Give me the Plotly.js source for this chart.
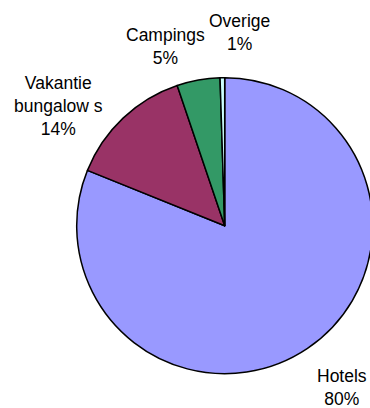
<!DOCTYPE html>
<html>
<head>
<meta charset="utf-8">
<script src="https://cdn.plot.ly/plotly-3.0.1.min.js"></script>
<style>
html, body { margin:0; padding:0; background:#fff; overflow:hidden; width:370px; height:408px; }
#chart { width:380px; height:408px; }
</style>
</head>
<body>
<div id="chart"></div>
<script>
// Data
const categories = ['Hotels', 'Vakantie bungalow s', 'Campings', 'Overige'];
const labelLines = ['Hotels', 'Vakantie<br>bungalow s', 'Campings', 'Overige'];
const values = [81.1, 13.7, 4.7, 0.5];
const percentLabels = ['80%', '14%', '5%', '1%'];
const colors = ['#9999FF', '#993366', '#339966', '#CCFFFF'];

// label placement (paper coords) for each category
const W = 380, H = 408;
const labelPos = [
  [342, 387],
  [58.8, 106],
  [165.5, 46],
  [239.3, 32.5]
];

const font = {family: '"Liberation Sans", Arial, sans-serif', size: 17.5, color: '#000000'};

const trace = {
  type: 'pie',
  labels: categories,
  values: values,
  sort: false,
  direction: 'clockwise',
  rotation: 0,
  textinfo: 'none',
  hoverinfo: 'none',
  marker: {colors: colors, line: {color: '#000000', width: 1.5}},
  domain: {x: [76.7 / W, 372.7 / W], y: [1 - 373.7 / H, 1 - 77.7 / H]},
  showlegend: false
};

const annotations = categories.map((c, i) => ({
  xref: 'paper', yref: 'paper',
  x: labelPos[i][0] / W, y: 1 - labelPos[i][1] / H,
  xanchor: 'center', yanchor: 'middle',
  text: labelLines[i] + '<br>' + percentLabels[i],
  showarrow: false,
  font: font,
  align: 'center'
}));

const layout = {
  width: W, height: H,
  margin: {l: 0, r: 0, t: 0, b: 0},
  paper_bgcolor: '#ffffff',
  plot_bgcolor: '#ffffff',
  showlegend: false,
  annotations: annotations
};

Plotly.newPlot('chart', [trace], layout, {displayModeBar: false, staticPlot: true});
</script>
</body>
</html>
